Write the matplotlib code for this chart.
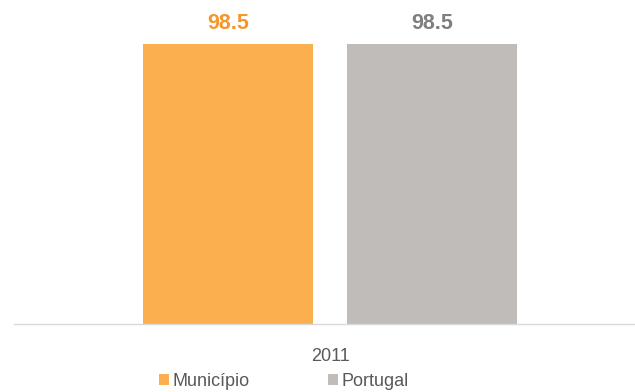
import matplotlib
matplotlib.use("Agg")
import matplotlib.pyplot as plt

plt.rcParams['font.family'] = ['Liberation Sans', 'DejaVu Sans']

# data
categories = ['2011']
series_names = ['Município', 'Portugal']
series_values = [[98.5], [98.5]]
bar_colors = ['#FBAF4E', '#BFBCB9']
label_colors = ['#F7962B', '#7F7F7F']

W, H = 635, 392
fig = plt.figure(figsize=(W / 100, H / 100), dpi=100)
ax = fig.add_axes([14 / W, (H - 324) / H, (W - 14) / W, (324 - 20) / H])

bar_w = 170 / 621
offsets = [-102 / 621, 102 / 621]
for name, vals, col, lcol, off in zip(series_names, series_values, bar_colors, label_colors, offsets):
    xs = [i + off for i in range(len(categories))]
    bars = ax.bar(xs, vals, width=bar_w, color=col, label=name)
    for b, v in zip(bars, vals):
        ax.text(b.get_x() + b.get_width() / 2, v + 3.6, f'{v:.1f}', ha='center', va='bottom',
                fontsize=15.5, fontweight='bold', color=lcol)

ax.set_ylim(0, 100 * (324 - 20) / 280 * 98.5 / 100)
ax.set_xlim(-(330 - 14) / 621, (635 - 330) / 621)
ax.set_xticks(range(len(categories)))
ax.set_xticklabels(categories, fontsize=13, color='#595959')
ax.tick_params(axis='x', length=0, pad=17)
ax.set_yticks([])
for s in ['top', 'right', 'left']:
    ax.spines[s].set_visible(False)
ax.spines['bottom'].set_color('#D9D9D9')
ax.spines['bottom'].set_linewidth(1)

fig.legend(loc='center', bbox_to_anchor=(284 / W, 1 - 381 / H), ncol=2, frameon=False,
           fontsize=13, handlelength=0.55, handleheight=0.55, handletextpad=0.2,
           columnspacing=4.3, labelcolor='#595959', borderpad=0)

fig.savefig('out.png', dpi=100)
